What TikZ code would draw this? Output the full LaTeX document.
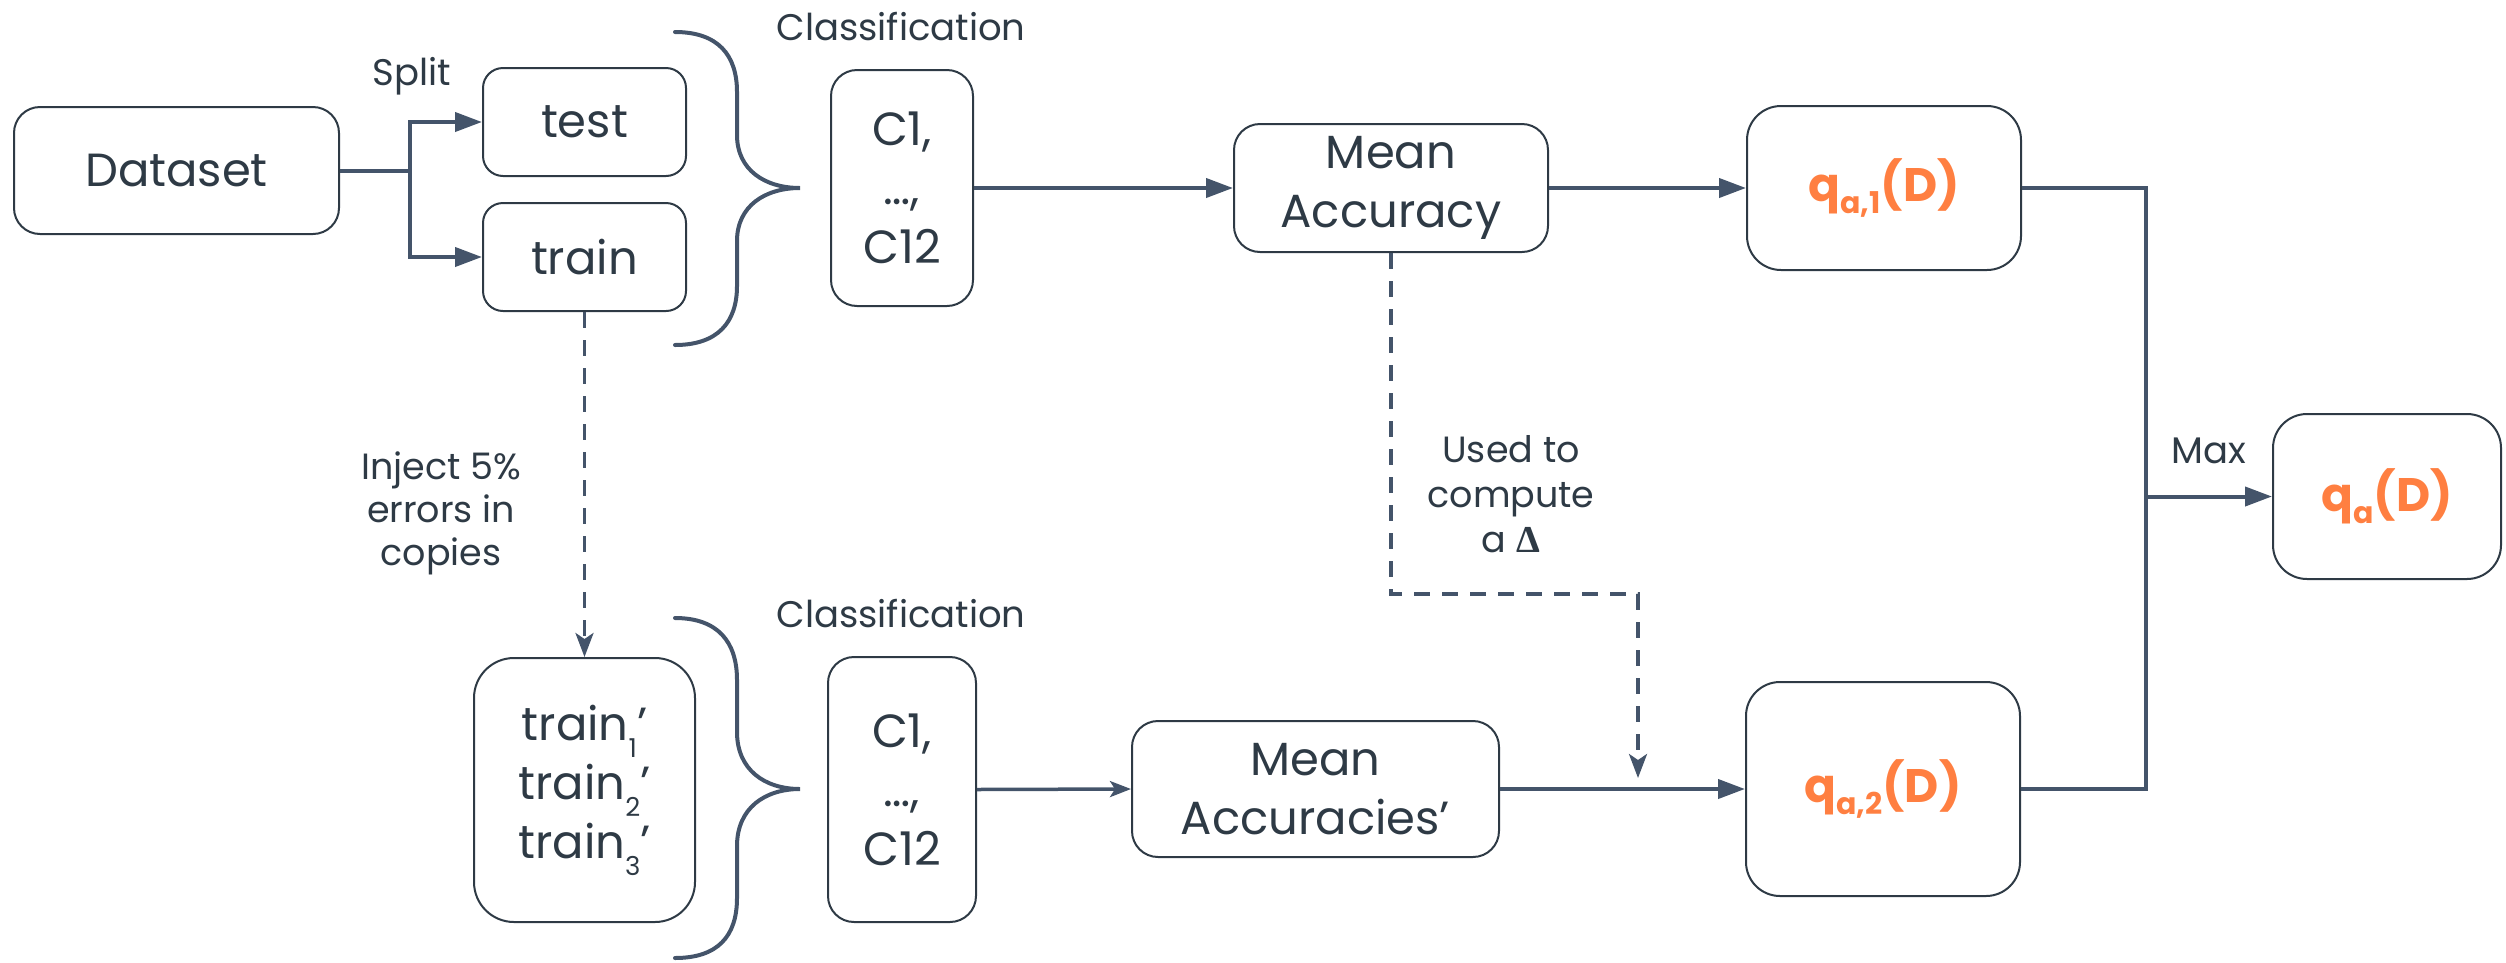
\documentclass[tikz,border=0pt]{standalone}
\usepackage{fontspec}
\setmainfont{Poppins}
\newfontfamily\deltafont{Liberation Serif}
\usetikzlibrary{arrows.meta}
\definecolor{ink}{HTML}{2E3A45}
\definecolor{wirecol}{HTML}{44546A}
\definecolor{accent}{HTML}{FF7F41}
\newcommand\tsubx[1]{\raisebox{-17pt}{\fontsize{26}{26}\selectfont #1}}
\newcommand\qsubx[1]{\raisebox{-12pt}{\fontsize{30}{30}\selectfont #1}}
\begin{document}
\begin{tikzpicture}[x=1pt,y=-1pt,
  box/.style={draw=ink, line width=2pt, rounded corners=26pt, text=ink, align=center,
    inner sep=0pt, font=\fontsize{46.5}{59}\selectfont},
  qbox/.style={box, rounded corners=34pt, text=accent, font=\fontsize{47}{52}\selectfont\bfseries},
  lbl/.style={text=ink, align=center, inner sep=0pt, font=\fontsize{37}{44}\selectfont},
  conn/.style={draw=wirecol, line width=4pt},
  arr/.style={conn, -{Triangle[length=27pt,width=19pt]}},
  thinarr/.style={draw=wirecol, line width=3.5pt, -{Stealth[length=21pt,width=16pt,inset=5pt]}},
  dasharr/.style={draw=wirecol, line width=3.5pt, dash pattern=on 16pt off 12pt,
    -{Stealth[length=24pt,width=18pt,inset=6pt]}},
  bracestyle/.style={draw=wirecol, line width=4pt, line cap=round}
]
\useasboundingbox (0,0) rectangle (2506,962);

% boxes
\node[box, minimum width=325pt, minimum height=127pt] (dataset) at (176.5,170.5) {Dataset};
\node[box, rounded corners=20pt, minimum width=203pt, minimum height=108pt] (test) at (584.5,122) {test};
\node[box, rounded corners=20pt, minimum width=203pt, minimum height=108pt] (train) at (584.5,257) {train};
\node[box, minimum width=142pt, minimum height=236pt] (cla) at (902,188) {C1,\\…,\\C12};
\node[box, minimum width=314pt, minimum height=128pt] (meanacc) at (1391,188) {Mean\\Accuracy};
\node[qbox, minimum width=274pt, minimum height=164pt] (qaone) at (1884,188) {q\qsubx{a,1}(D)};
\node[qbox, minimum width=228pt, minimum height=165pt] (qa) at (2387,496.5) {q\qsubx{a}(D)};
\node[box, rounded corners=40pt, minimum width=221pt, minimum height=264pt] (trainp) at (584.5,790)
  {train\tsubx{1}’\\train\tsubx{2}’\\train\tsubx{3}’};
\node[box, minimum width=148pt, minimum height=265pt] (clb) at (902,789.5) {C1,\\…,\\C12};
\node[box, minimum width=367pt, minimum height=136pt] (meanaccp) at (1315.5,789) {Mean\\Accuracies’};
\node[qbox, minimum width=274pt, minimum height=214pt] (qatwo) at (1883,789) {q\qsubx{a,2}(D)};

% labels
\node[lbl, anchor=base] (splitlbl) at (412,85) {Split};
\node[lbl, anchor=base] (classa) at (901,40) {Classification};
\node[lbl, anchor=base] (classb) at (901,627) {Classification};
\node[lbl, anchor=base] (maxlbl) at (2209,463) {Max};
\node[lbl, font=\fontsize{36.5}{43}\selectfont] (injectlbl) at (441,513) {Inject 5\%\\errors in\\copies};
\node[lbl, font=\fontsize{36.5}{45}\selectfont] (usedlbl) at (1511,494) {Used to\\compute\\a {\deltafont\bfseries\fontsize{38}{38}\selectfont Δ}};

% coordinates
\coordinate (sp) at (410,170.5);
\coordinate (mx) at (2146,496.5);
\coordinate (dturn1) at (1391,594);
\coordinate (dturn2) at (1638,594);
\coordinate (dend) at (1638,778);

% connectors
\draw[conn] (dataset.east) -- (sp);
\draw[arr] (sp) |- (test.west);
\draw[arr] (sp) |- (train.west);
\draw[arr] (cla.east) -- (meanacc.west);
\draw[arr] (meanacc.east) -- (qaone.west);
\draw[conn] (qaone.east) -| (mx);
\draw[conn] (qatwo.east) -| (mx);
\draw[arr] (mx) -- (qa.west);
\draw[dasharr] (train.south) -- (trainp.north);
\draw[dasharr] (meanacc.south) -- (dturn1) -- (dturn2) -- (dend);
\draw[thinarr] (clb.east) -- (meanaccp.west);
\draw[arr] (meanaccp.east) -- (qatwo.west);

% braces
\draw[bracestyle] (675,32) .. controls (718,32) and (737,55) .. (737,92) -- (737,135)
  .. controls (737,170) and (765,188) .. (800,188)
  .. controls (765,188) and (737,206) .. (737,241) -- (737,286)
  .. controls (737,322) and (718,345) .. (675,345);
\draw[bracestyle] (675,618) .. controls (718,618) and (737,642) .. (737,680) -- (737,732)
  .. controls (737,770) and (765,789) .. (800,789)
  .. controls (765,789) and (737,808) .. (737,846) -- (737,898)
  .. controls (737,936) and (718,958) .. (675,958);
\end{tikzpicture}
\end{document}
